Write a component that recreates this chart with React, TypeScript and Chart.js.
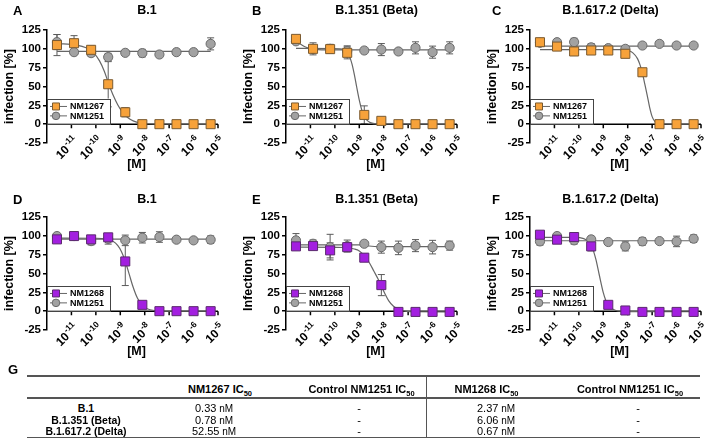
import React, { useEffect, useRef } from 'react';
import { Chart, registerables } from 'chart.js';

Chart.register(...registerables);

const FONT = '"Liberation Sans", Arial, Helvetica, sans-serif';

// ---------- data ----------
// concentrations in M (1:5 dilution series)
const concentrations = [2.56e-12, 1.28e-11, 6.4e-11, 3.2e-10, 1.6e-9, 8e-9, 4e-8, 2e-7, 1e-6, 5e-6];
const decadeExponents = [-11, -10, -9, -8, -7, -6, -5];
const yTickStep = 25;
const xMin = 1e-12;
const xMax = 1e-5;
const yMin = -25;
const yMax = 125;

const panelLetters = ['A', 'B', 'C', 'D', 'E', 'F'];
const panelTitles = ['B.1', 'B.1.351 (Beta)', 'B.1.617.2 (Delta)', 'B.1', 'B.1.351 (Beta)', 'B.1.617.2 (Delta)'];
const yAxisTitles = ['infection [%]', 'Infection [%]', 'infection [%]', 'infection [%]', 'Infection [%]', 'infection [%]'];
const drugNames = ['NM1267', 'NM1267', 'NM1267', 'NM1268', 'NM1268', 'NM1268'];
const controlName = 'NM1251';
const xAxisTitle = '[M]';

// Panel A (NM1267 vs B.1)
const aDrug = [105, 107.5, 98.7, 53, 15.8, 0, 0, 0, 0, 0];
const aDrugErr = [14, 10, 5, 30, 6, 0, 0, 0, 0, 0];
const aCtrl = [109, 95.6, 94.3, 89, 94.7, 94.3, 92.5, 95.6, 95.6, 106.6];
const aCtrlErr = [10, 3, 4, 5, 2, 5, 2, 4, 4, 8];
const aDrugFit = [[-11.59, 107], [-10.8, 105], [-10.4, 101.5], [-10.1, 95], [-9.85, 84], [-9.65, 70], [-9.48, 54], [-9.3, 39], [-9.1, 25.5], [-8.9, 15.5], [-8.7, 8.8], [-8.45, 4], [-8.1, 1.2], [-7.6, 0.2], [-5.3, 0]];
const aCtrlFit = [[-11.59, 96.5], [-5.3, 96.5]];

// Panel B (NM1267 vs Beta)
const bDrug = [113.2, 100, 99.6, 94.7, 12.3, 4.4, 0, 0, 0, 0];
const bDrugErr = [3, 4, 4, 8, 12, 2, 0, 0, 0, 0];
const bCtrl = [110, 100, 100, 97, 97.8, 99, 96.5, 101.3, 95.6, 101.3];
const bCtrlErr = [3, 8, 6, 7, 2, 8, 3, 8, 8, 8];
const bDrugFit = [[-11.59, 100.5], [-9.8, 100], [-9.6, 98.5], [-9.49, 96], [-9.4, 90], [-9.3, 80], [-9.2, 65.5], [-9.11, 50], [-9.0, 32], [-8.9, 19], [-8.8, 10.5], [-8.7, 5.6], [-8.55, 2], [-8.3, 0.4], [-5.3, 0]];
const bCtrlFit = [[-11.59, 109], [-11.4, 106], [-11.2, 102.5], [-11.0, 100.2], [-10.7, 99], [-10.3, 98.7], [-5.3, 98.7]];

// Panel C (NM1267 vs Delta)
const cDrug = [108.8, 103, 96.5, 97.8, 97.8, 93.4, 68.9, 0, 0, 0];
const cDrugErr = [2, 2, 2, 3, 3, 3, 5, 0, 0, 0];
const cCtrl = [108, 108.8, 109, 102, 100.9, 100, 104.4, 106.6, 104.4, 104.4];
const cCtrlErr = [2, 2, 5, 5, 2, 2, 2, 2, 2, 2];
const cDrugFit = [[-11.59, 99], [-8.2, 99], [-8.0, 98], [-7.8, 95], [-7.6, 87], [-7.5, 79], [-7.4, 68], [-7.3, 53], [-7.2, 38], [-7.1, 22], [-7.0, 10], [-6.9, 4], [-6.8, 1.5], [-6.6, 0.3], [-5.3, 0]];
const cCtrlFit = [[-11.59, 103.5], [-5.3, 103.5]];

// Panel D (NM1268 vs B.1)
const dDrug = [95.3, 99.7, 95.3, 98, 66, 8.4, 0, 0, 0, 0];
const dDrugErr = [3, 3, 3, 5, 32, 4, 0, 0, 0, 0];
const dCtrl = [99.7, 99.7, 93, 96, 94, 97.5, 98.4, 94.9, 94, 94.9];
const dCtrlErr = [3, 3, 5, 7, 7, 7, 7, 2, 2, 5];
const dDrugFit = [[-11.59, 97], [-10, 96.8], [-9.6, 95.9], [-9.3, 92.8], [-9.1, 87], [-8.95, 79], [-8.8, 66.6], [-8.63, 48.5], [-8.5, 34.4], [-8.3, 17.4], [-8.1, 7.8], [-7.9, 3.3], [-7.6, 0.8], [-7.2, 0.1], [-5.3, 0]];
const dCtrlFit = [[-11.59, 95.5], [-5.3, 95.5]];

// Panel E (NM1268 vs Beta)
const eDrug = [86, 86.4, 80.7, 85, 71, 34.6, -1, -1, -1, -1];
const eDrugErr = [4, 4, 10, 4, 5, 14, 0, 0, 0, 0];
const eCtrl = [94, 89.5, 85, 86.4, 89.5, 85, 84, 87, 85, 87];
const eCtrlErr = [9, 5, 17, 8, 3, 8, 9, 8, 9, 6];
const eDrugFit = [[-11.59, 85], [-9.6, 84.5], [-9.2, 82.5], [-9.0, 80], [-8.8, 74], [-8.6, 65], [-8.4, 53], [-8.22, 42], [-8.1, 33.5], [-7.95, 23], [-7.8, 14], [-7.6, 6.5], [-7.4, 2.5], [-7.1, 0], [-6.8, -0.8], [-5.3, -1]];
const eCtrlFit = [[-11.59, 88], [-9.0, 88], [-8.6, 86.5], [-8.2, 85.8], [-5.3, 85.8]];

// Panel F (NM1268 vs Delta)
const fDrug = [101.5, 94.9, 98.4, 86, 8.4, 0.9, -1, -1, -1, -1];
const fDrugErr = [4, 3, 5, 6, 2, 0, 0, 0, 0, 0];
const fCtrl = [92.6, 99.7, 94, 95.3, 91.8, 86, 92.6, 93, 92.6, 96.2];
const fCtrlErr = [5, 2, 5, 4, 2, 6, 5, 2, 7, 5];
const fDrugFit = [[-11.59, 98], [-10.2, 97.9], [-9.8, 96.3], [-9.6, 92.2], [-9.49, 87], [-9.4, 79.7], [-9.3, 68.3], [-9.17, 49], [-9.0, 24.6], [-8.9, 14.6], [-8.8, 8.2], [-8.6, 2.4], [-8.4, 0.2], [-8.0, -0.5], [-5.3, -0.8]];
const fCtrlFit = [[-11.59, 93.5], [-5.3, 93.5]];

// Table G
const tableVariants = ['B.1', 'B.1.351 (Beta)', 'B.1.617.2 (Delta)'];
const nm1267IC50 = ['0.33', '0.78', '52.55'];
const nm1251IC50First = ['-', '-', '-'];
const nm1268IC50 = ['2.37', '6.06', '0.67'];
const nm1251IC50Second = ['-', '-', '-'];
const tableHeaders = ['NM1267 IC', 'Control NM1251 IC', 'NM1268 IC', 'Control NM1251 IC'];

// ---------- styling / layout ----------
const ORANGE = '#F7A23A';
const ORANGE_EDGE = '#7A5A30';
const PURPLE = '#A31FE0';
const PURPLE_EDGE = '#5B2A6E';
const GREY = '#A2A2A2';
const GREY_EDGE = '#6A6A6A';
const CURVE = '#666666';

const CW = 226;
const CH = 185;
const colLefts = [0, 238.5, 482.5];
const rowTops = [0, 187];
const letterX = [13, 252, 492];
const titleCX = [147, 376.5, 610.5];
const rowTitleY = [10, 199];

const drugAll = [aDrug, bDrug, cDrug, dDrug, eDrug, fDrug];
const drugErrAll = [aDrugErr, bDrugErr, cDrugErr, dDrugErr, eDrugErr, fDrugErr];
const ctrlAll = [aCtrl, bCtrl, cCtrl, dCtrl, eCtrl, fCtrl];
const ctrlErrAll = [aCtrlErr, bCtrlErr, cCtrlErr, dCtrlErr, eCtrlErr, fCtrlErr];
const drugFitAll = [aDrugFit, bDrugFit, cDrugFit, dDrugFit, eDrugFit, fDrugFit];
const ctrlFitAll = [aCtrlFit, bCtrlFit, cCtrlFit, dCtrlFit, eCtrlFit, fCtrlFit];

const doseAxisPlugin = {
  id: 'doseAxis',
  beforeDatasetsDraw(chart: any) {
    const { ctx, chartArea, scales } = chart;
    const xs = scales.x;
    const ys = scales.y;
    const y0 = ys.getPixelForValue(0);
    ctx.save();
    chart.data.datasets.forEach((ds: any, di: number) => {
      const errs = ds.errors;
      if (!errs) return;
      const meta = chart.getDatasetMeta(di);
      meta.data.forEach((pt: any, i: number) => {
        const e = errs[i];
        if (!e) return;
        const v = ds.data[i].y;
        const yt = ys.getPixelForValue(v + e);
        const yb = ys.getPixelForValue(v - e);
        ctx.strokeStyle = '#5A5A5A';
        ctx.lineWidth = 1;
        ctx.beginPath();
        ctx.moveTo(pt.x, yt); ctx.lineTo(pt.x, yb);
        ctx.moveTo(pt.x - 3.5, yt); ctx.lineTo(pt.x + 3.5, yt);
        ctx.moveTo(pt.x - 3.5, yb); ctx.lineTo(pt.x + 3.5, yb);
        ctx.stroke();
      });
    });
    ctx.strokeStyle = '#000';
    ctx.lineWidth = 1.5;
    ctx.beginPath();
    ctx.moveTo(chartArea.left, y0);
    ctx.lineTo(chartArea.right, y0);
    decadeExponents.forEach((e) => {
      const x = xs.getPixelForValue(Math.pow(10, e));
      ctx.moveTo(x, y0);
      ctx.lineTo(x, y0 + 4);
    });
    ctx.stroke();
    ctx.restore();
  },
  afterDraw(chart: any) {
    const { ctx, chartArea, scales } = chart;
    const xs = scales.x;
    const ys = scales.y;
    const y0 = ys.getPixelForValue(0);
    ctx.save();
    ctx.fillStyle = '#000';
    // rotated decade labels
    decadeExponents.forEach((e) => {
      const x = xs.getPixelForValue(Math.pow(10, e));
      const base = '10';
      const sup = String(e);
      ctx.font = `bold 12px ${FONT}`;
      const wb = ctx.measureText(base).width;
      ctx.font = `bold 8.5px ${FONT}`;
      const ws = ctx.measureText(sup).width;
      const total = wb + ws + 0.5;
      ctx.save();
      ctx.translate(x - 1, y0 + 9);
      ctx.rotate(-Math.PI / 4);
      ctx.textBaseline = 'top';
      ctx.textAlign = 'left';
      ctx.font = `bold 12px ${FONT}`;
      ctx.fillText(base, -total, 2.5);
      ctx.font = `bold 8.5px ${FONT}`;
      ctx.fillText(sup, -ws, 0);
      ctx.restore();
    });
    // x title
    ctx.font = `bold 12.5px ${FONT}`;
    ctx.textAlign = 'center';
    ctx.textBaseline = 'middle';
    ctx.fillText(xAxisTitle, (chartArea.left + chartArea.right) / 2 + 4, chartArea.bottom + 22);
    // legend
    const lx = chartArea.left;
    const top = ys.getPixelForValue(34);
    const bot = ys.getPixelForValue(1);
    ctx.fillStyle = '#fff';
    ctx.fillRect(lx + 1, top, 62, bot - top);
    ctx.strokeStyle = '#444';
    ctx.lineWidth = 1;
    ctx.strokeRect(lx + 0.5, Math.round(top) + 0.5, 63, Math.round(bot - top));
    const rowVals = [23.5, 11];
    [0, 1].forEach((di) => {
      const ds = chart.data.datasets[di];
      const yy = ys.getPixelForValue(rowVals[di]);
      ctx.strokeStyle = CURVE;
      ctx.lineWidth = 1;
      ctx.beginPath();
      ctx.moveTo(lx + 3, yy);
      ctx.lineTo(lx + 20, yy);
      ctx.stroke();
      ctx.fillStyle = ds.backgroundColor;
      ctx.strokeStyle = ds.borderColor;
      ctx.beginPath();
      if (ds.pointStyle === 'rect') {
        ctx.rect(lx + 5.5, yy - 3.5, 7, 7);
      } else {
        ctx.arc(lx + 9, yy, 3.8, 0, Math.PI * 2);
      }
      ctx.fill();
      ctx.stroke();
      ctx.fillStyle = '#000';
      ctx.font = `bold 9px ${FONT}`;
      ctx.textAlign = 'left';
      ctx.textBaseline = 'middle';
      ctx.fillText(ds.label, lx + 23, yy + 0.5);
    });
    ctx.restore();
  },
};

function DoseChart({ index }: { index: number }) {
  const ref = useRef<HTMLCanvasElement>(null);
  const col = index % 3;
  const row = Math.floor(index / 3);
  useEffect(() => {
    const isPurple = index >= 3;
    const toPts = (vals: number[]) => concentrations.map((c, i) => ({ x: c, y: vals[i] }));
    const toFit = (fit: number[][]) => fit.map(([lx, y]) => ({ x: Math.pow(10, lx), y }));
    const chart = new Chart(ref.current as HTMLCanvasElement, {
      type: 'scatter',
      data: {
        datasets: [
          {
            label: drugNames[index],
            data: toPts(drugAll[index]),
            pointStyle: 'rect',
            pointRadius: 6.4,
            backgroundColor: isPurple ? PURPLE : ORANGE,
            borderColor: isPurple ? PURPLE_EDGE : ORANGE_EDGE,
            borderWidth: 1,
            showLine: false,
            errors: drugErrAll[index],
          } as any,
          {
            label: controlName,
            data: toPts(ctrlAll[index]),
            pointStyle: 'circle',
            pointRadius: 4.6,
            backgroundColor: GREY,
            borderColor: GREY_EDGE,
            borderWidth: 1,
            showLine: false,
            errors: ctrlErrAll[index],
          } as any,
          {
            type: 'line',
            label: 'fit-drug',
            data: toFit(drugFitAll[index]),
            borderColor: CURVE,
            borderWidth: 1.2,
            pointRadius: 0,
            cubicInterpolationMode: 'monotone',
            fill: false,
          } as any,
          {
            type: 'line',
            label: 'fit-ctrl',
            data: toFit(ctrlFitAll[index]),
            borderColor: CURVE,
            borderWidth: 1.2,
            pointRadius: 0,
            cubicInterpolationMode: 'monotone',
            fill: false,
          } as any,
        ],
      },
      options: {
        responsive: false,
        animation: false,
        devicePixelRatio: 1,
        events: [],
        layout: { padding: { left: 0, right: 8, top: 30, bottom: 42 } },
        plugins: { legend: { display: false }, tooltip: { enabled: false }, title: { display: false } },
        scales: {
          x: { type: 'logarithmic', min: xMin, max: xMax, display: false },
          y: {
            type: 'linear',
            min: yMin,
            max: yMax,
            ticks: {
              stepSize: yTickStep,
              font: { family: FONT, size: 11.5, weight: 'bold' },
              color: '#000',
              padding: 2,
            },
            grid: { drawOnChartArea: false, drawTicks: true, tickLength: 4, color: '#000', lineWidth: 1.5 },
            border: { display: true, color: '#000', width: 1.5 },
            title: {
              display: true,
              text: yAxisTitles[index],
              font: { family: FONT, size: 12.5, weight: 'bold' },
              color: '#000',
              padding: { top: 2.5, bottom: 0 },
            },
            afterFit: (s: any) => { s.width = 47; },
          },
        },
      } as any,
      plugins: [doseAxisPlugin],
    });
    return () => chart.destroy();
  }, [index]);
  return (
    <canvas
      ref={ref}
      width={CW}
      height={CH}
      style={{ position: 'absolute', left: colLefts[col], top: rowTops[row], width: CW, height: CH }}
    />
  );
}

const centered = (cx: number, cy: number, extra: any = {}) => ({
  position: 'absolute' as const,
  left: cx,
  top: cy,
  transform: 'translate(-50%, -50%)',
  whiteSpace: 'nowrap' as const,
  lineHeight: 1,
  ...extra,
});

function Sub50({ label }: { label: string }) {
  return (
    <span>
      {label}
      <span style={{ fontSize: 7.5, position: 'relative', top: 3 }}>50</span>
    </span>
  );
}

function IcTable() {
  const lineTop = 376;
  const headerLine = 398;
  const bottomLine = 437.5;
  const headerY = 389;
  const rowYs = [408, 419.5, 430.5];
  const headerCX = [220, 361.5, 486.5, 630];
  const valueCX = [214, 359, 496, 638];
  const labelCX = 86;
  const cols = [nm1267IC50, nm1251IC50First, nm1268IC50, nm1251IC50Second];
  const hline = (y: number) => (
    <div style={{ position: 'absolute', left: 27, top: y - 0.75, width: 673, height: 1.5, background: '#555' }} />
  );
  return (
    <>
      <div style={{ position: 'absolute', left: 8, top: 363, fontWeight: 'bold', fontSize: 13, lineHeight: 1 }}>G</div>
      {hline(lineTop)}
      {hline(headerLine)}
      {hline(bottomLine)}
      <div style={{ position: 'absolute', left: 425.5, top: lineTop, width: 1, height: bottomLine - lineTop, background: '#555' }} />
      {tableHeaders.map((h, i) => (
        <div key={'h' + i} style={centered(headerCX[i], headerY, { fontWeight: 'bold', fontSize: 11 })}>
          <Sub50 label={h} />
        </div>
      ))}
      {tableVariants.map((v, r) => (
        <React.Fragment key={'r' + r}>
          <div style={centered(labelCX, rowYs[r], { fontWeight: 'bold', fontSize: 10.5 })}>{v}</div>
          {cols.map((c, k) => (
            <div key={'c' + k} style={centered(valueCX[k], rowYs[r], { fontSize: 11 })}>
              {c[r] === '-' ? '-' : (
                <span>{c[r]}<span style={{ fontSize: 10 }}> nM</span></span>
              )}
            </div>
          ))}
        </React.Fragment>
      ))}
    </>
  );
}

export default function App() {
  return (
    <div
      style={{
        position: 'absolute', left: 0, top: 0, width: 709, height: 448,
        background: '#fff', fontFamily: FONT, color: '#000', overflow: 'hidden',
      }}
    >
      {panelLetters.map((_, i) => <DoseChart key={i} index={i} />)}
      {panelLetters.map((l, i) => (
        <div
          key={'l' + i}
          style={{ position: 'absolute', left: letterX[i % 3], top: rowTitleY[Math.floor(i / 3)] - 6.5, fontWeight: 'bold', fontSize: 13, lineHeight: 1 }}
        >
          {l}
        </div>
      ))}
      {panelTitles.map((t, i) => (
        <div key={'t' + i} style={centered(titleCX[i % 3], rowTitleY[Math.floor(i / 3)], { fontWeight: 'bold', fontSize: 12.5 })}>
          {t}
        </div>
      ))}
      <IcTable />
    </div>
  );
}
